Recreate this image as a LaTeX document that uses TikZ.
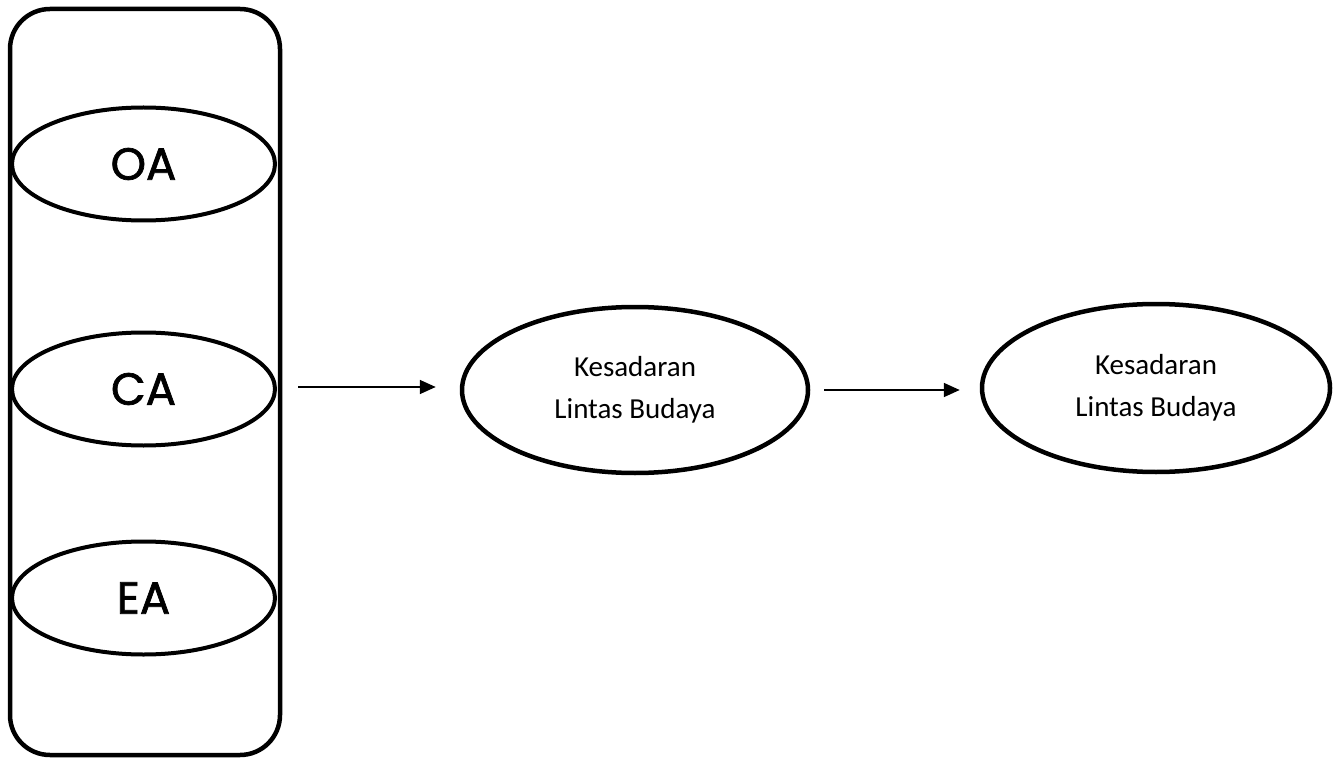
\documentclass[tikz,border=0pt]{standalone}
\usepackage{fontspec}
\setmainfont{Carlito}
\newfontfamily\capsfont[FakeBold=1.6]{Poppins}
\usetikzlibrary{shapes.geometric,arrows.meta}
\tikzset{
  frame/.style={draw, line width=4.5pt, rounded corners=40pt, minimum width=270pt, minimum height=746pt, inner sep=0pt},
  small/.style={draw, ellipse, line width=4pt, minimum width=263pt, minimum height=113pt, inner sep=0pt, font=\capsfont\fontsize{45}{50}\selectfont},
  big/.style={draw, ellipse, line width=4.5pt, minimum width=346pt, minimum height=166pt, inner sep=0pt, align=center, font=\fontsize{29}{42}\selectfont},
  arr/.style={line width=1.8pt, -{Triangle[length=16pt,width=14pt]}}
}
\begin{document}
\begin{tikzpicture}[x=1pt,y=-1pt]
\useasboundingbox (0,0) rectangle (1338,759);
\node[frame] (box) at (145,382) {};
\node[small] (oa) at (143.5,164) {OA};
\node[small] (ca) at (143.5,389) {CA};
\node[small] (ea) at (143.5,598) {EA};
\node[big] (k1) at (635,390) {Kesadaran\\Lintas Budaya};
\node[big, minimum width=348pt, minimum height=168pt] (k2) at (1156,388) {Kesadaran\\Lintas Budaya};
\draw[arr, shorten <=16pt, shorten >=24pt] ([yshift=3pt]box.east |- k1.west) -- ([yshift=3pt]k1.west);
\draw[arr, shorten <=14pt, shorten >=20pt] (k1.east) -- (k2.west |- k1.east);
\end{tikzpicture}
\end{document}
